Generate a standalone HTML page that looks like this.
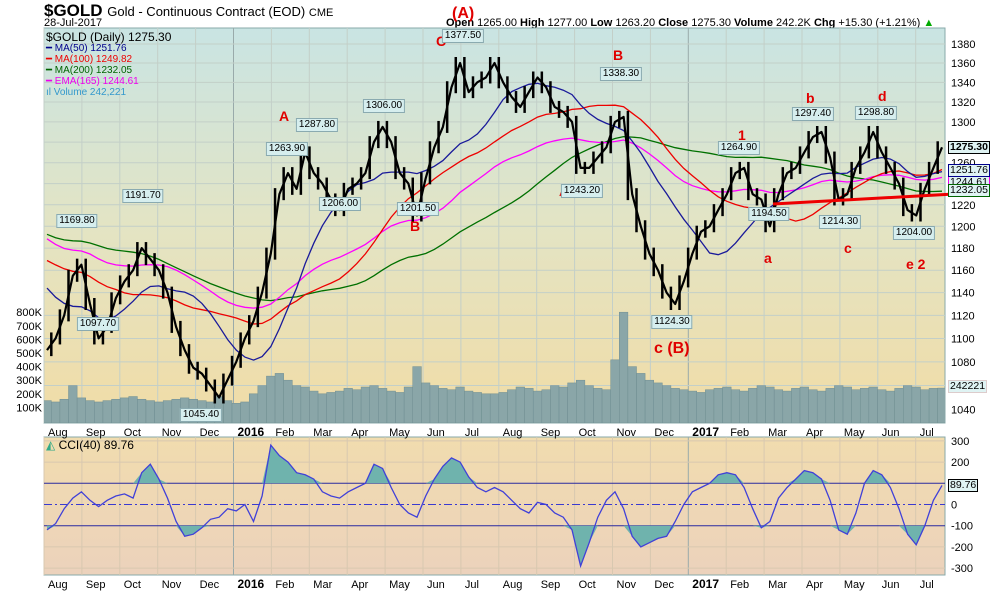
<!DOCTYPE html>
<html><head><meta charset="utf-8">
<style>
body{margin:0;background:#fff;font-family:"Liberation Sans",sans-serif;}
#wrap{position:relative;width:990px;height:591px;overflow:hidden;background:#fff}
.t{position:absolute;white-space:nowrap;font-size:11px;color:#000}
.r{position:absolute;color:#e00000;font-weight:bold;font-size:14px;white-space:nowrap}
.pb{position:absolute;font-size:10px;background:#d6eeee;border:1px solid #8aaab0;padding:0 2px;line-height:12px;transform:translate(-50%,-50%);white-space:nowrap}
.tag{position:absolute;left:948px;font-size:10.5px;line-height:11px;padding:0 1px;border:1px solid;background:#dff3f3;white-space:nowrap}
</style></head><body>
<div id="wrap">
<div class="t" style="left:44px;top:1px;font-size:17px;font-weight:bold">$GOLD <span style="font-size:13px;font-weight:normal">Gold - Continuous Contract (EOD) <span style="font-size:11px">CME</span></span></div>
<div class="t" style="left:44px;top:17px">28-Jul-2017</div>
<div class="t" style="left:446px;top:17px"><b>Open</b> 1265.00 <b>High</b> 1277.00 <b>Low</b> 1263.20 <b>Close</b> 1275.30 <b>Volume</b> 242.2K <b>Chg</b> +15.30 (+1.21%) <span style="color:#0a0">▲</span></div>
<svg id="svg" width="990" height="591" style="position:absolute;left:0;top:0">
<defs>
<linearGradient id="g1" x1="0" y1="0" x2="0" y2="1"><stop offset="0" stop-color="#c9e4e3"/><stop offset="0.5" stop-color="#e3e4c4"/><stop offset="1" stop-color="#f1dca6"/></linearGradient>
<linearGradient id="g2" x1="0" y1="0" x2="0" y2="1"><stop offset="0" stop-color="#f1dcae"/><stop offset="1" stop-color="#ecd2bc"/></linearGradient>
<clipPath id="cp1"><rect x="44" y="28" width="901" height="395"/></clipPath>
<clipPath id="cp2"><rect x="44" y="437" width="901" height="138"/></clipPath>
</defs>
<rect x="44" y="28" width="901" height="395" fill="url(#g1)" stroke="#8aa"/>
<rect x="44" y="437" width="901" height="138" fill="url(#g2)" stroke="#8aa"/>
<g id="grid"></g>
<g id="vol" clip-path="url(#cp1)"></g>
<g id="mas" clip-path="url(#cp1)"></g>
<g id="price" clip-path="url(#cp1)"></g>
<g id="cci" clip-path="url(#cp2)"></g>
<g id="axes"></g>
<line x1="773" y1="204" x2="990" y2="192" stroke="#e00" stroke-width="3"/>
</svg>
<div class="t" style="left:46px;top:30px;font-size:12px">$GOLD (Daily) 1275.30</div>
<div class="t" style="left:46px;top:43px;font-size:10px;color:#00008b">━ MA(50) 1251.76</div>
<div class="t" style="left:46px;top:54px;font-size:10px;color:#e00">━ MA(100) 1249.82</div>
<div class="t" style="left:46px;top:65px;font-size:10px;color:#006400">━ MA(200) 1232.05</div>
<div class="t" style="left:46px;top:76px;font-size:10px;color:#e0e">━ EMA(165) 1244.61</div>
<div class="t" style="left:46px;top:87px;font-size:10px;color:#39c">ıl Volume 242,221</div>
<div class="t" style="left:46px;top:438px;font-size:12px"><span style="color:#3a8">◭</span> CCI(40) 89.76</div>
<div class="tag" style="top:141px;border-color:#000;font-weight:bold">1275.30</div>
<div class="tag" style="top:176px;border-color:#e0e">1244.61</div>
<div class="tag" style="top:164px;border-color:#00008b">1251.76</div>
<div class="tag" style="top:184px;border-color:#006400">1232.05</div>
<div class="tag" style="top:380px;border-color:#dcc;background:#dff3f3">242221</div>
<div class="tag" style="top:479px;border-color:#000">89.76</div>
<div class="r" style="left:452px;top:5px;font-size:16px">(A)</div>
<div class="r" style="left:436px;top:33px">C</div>
<div class="r" style="left:279px;top:108px">A</div>
<div class="r" style="left:410px;top:218px">B</div>
<div class="r" style="left:559px;top:183px">A</div>
<div class="r" style="left:613px;top:47px">B</div>
<div class="r" style="left:654px;top:340px;font-size:16px">c (B)</div>
<div class="r" style="left:738px;top:127px">1</div>
<div class="r" style="left:764px;top:250px">a</div>
<div class="r" style="left:806px;top:90px">b</div>
<div class="r" style="left:844px;top:240px">c</div>
<div class="r" style="left:878px;top:88px">d</div>
<div class="r" style="left:906px;top:256px">e 2</div>
<div class="pb" style="left:463px;top:36px">1377.50</div>
<div class="pb" style="left:317px;top:125px">1287.80</div>
<div class="pb" style="left:287px;top:149px">1263.90</div>
<div class="pb" style="left:384px;top:106px">1306.00</div>
<div class="pb" style="left:340px;top:204px">1206.00</div>
<div class="pb" style="left:418px;top:209px">1201.50</div>
<div class="pb" style="left:143px;top:196px">1191.70</div>
<div class="pb" style="left:77px;top:221px">1169.80</div>
<div class="pb" style="left:98px;top:324px">1097.70</div>
<div class="pb" style="left:201px;top:415px">1045.40</div>
<div class="pb" style="left:621px;top:74px">1338.30</div>
<div class="pb" style="left:582px;top:191px">1243.20</div>
<div class="pb" style="left:672px;top:322px">1124.30</div>
<div class="pb" style="left:739px;top:148px">1264.90</div>
<div class="pb" style="left:769px;top:214px">1194.50</div>
<div class="pb" style="left:813px;top:114px">1297.40</div>
<div class="pb" style="left:840px;top:222px">1214.30</div>
<div class="pb" style="left:876px;top:113px">1298.80</div>
<div class="pb" style="left:914px;top:233px">1204.00</div>
</div>
<script>
const preCloses=[1230,1225,1200,1190,1180,1195,1200,1210,1195,1185,1200,1230,1260,1280,1290,1260,1235,1220,1210,1200,1165,1180,1190,1200,1185,1205,1200,1190,1185,1210,1190,1180,1175,1180,1170,1165,1160,1130,1100,1090];
const closes=[1090,1100,1120,1155,1165,1130,1100,1110,1135,1150,1160,1180,1170,1160,1140,1110,1090,1075,1070,1060,1050,1065,1080,1100,1115,1140,1175,1230,1250,1235,1270,1250,1240,1225,1215,1235,1240,1250,1280,1295,1280,1250,1240,1210,1245,1275,1295,1335,1360,1330,1340,1345,1360,1340,1325,1315,1330,1345,1335,1315,1310,1300,1255,1255,1265,1275,1300,1305,1230,1200,1175,1160,1140,1130,1150,1175,1195,1200,1215,1230,1250,1255,1230,1225,1200,1230,1250,1255,1270,1285,1290,1265,1225,1230,1255,1270,1290,1270,1255,1240,1215,1210,1235,1255,1275];
const volumes=[150,140,160,260,170,150,140,150,160,170,180,160,150,140,150,160,170,160,150,140,180,150,130,140,200,260,330,350,300,260,250,220,200,210,220,240,230,250,260,240,220,210,250,400,280,260,240,230,250,220,210,200,200,210,230,250,240,220,230,260,250,280,300,260,240,230,450,800,400,350,300,280,260,240,230,220,210,230,240,250,230,220,240,260,250,230,220,240,250,230,220,240,260,250,230,240,250,230,220,240,260,250,230,240,242];
const cciVals=[-120,-90,-20,30,60,20,-10,20,40,50,30,150,190,120,30,-80,-150,-140,-110,-70,-60,-20,-30,0,-80,40,280,230,200,150,140,120,60,40,30,60,80,100,190,170,80,0,-40,-60,40,120,180,220,200,130,80,60,80,60,20,-20,-40,10,0,-40,-60,-120,-290,-180,-60,20,60,-20,-150,-200,-180,-160,-150,-80,0,60,80,100,140,150,140,80,-20,-110,-80,30,80,120,160,150,120,20,-120,-140,-40,100,160,140,80,-20,-140,-190,-100,20,90];
const priceTicks=[1380,1360,1340,1320,1300,1280,1260,1240,1220,1200,1180,1160,1140,1120,1100,1080,1060,1040];
const hiddenPriceTicks=[1280,1240,1060];
const volTicks=[100,200,300,400,500,600,700,800];
const cciTicks=[300,200,100,0,-100,-200,-300];
const monthLabels=["Aug","Sep","Oct","Nov","Dec","2016","Feb","Mar","Apr","May","Jun","Jul","Aug","Sep","Oct","Nov","Dec","2017","Feb","Mar","Apr","May","Jun","Jul"];
const NS="http://www.w3.org/2000/svg";
function mk(tag,attrs,parent){const e=document.createElementNS(NS,tag);for(const k in attrs)e.setAttribute(k,attrs[k]);document.getElementById(parent).appendChild(e);return e;}
function xW(i){return 47+i*(895/(closes.length-1));}
function yP(p){
  let idx=(1380-p)/20; if(idx<0){return 44+idx*19;}
  const n=Math.floor(idx), f=idx-n; let y=44; for(let k=0;k<n;k++)y+=19+k*5/16; return y+f*(19+n*5/16);}
function yV(v){return 421-v*0.136;}
function yC(c){return 504.5-c*0.212;}
function xMonth(m){return 44+m*37.9;}
monthLabels.forEach((m,i)=>{const x=xMonth(i);
  const l1=mk('line',{x1:x,y1:28,x2:x,y2:423,stroke:(m.length===4?'#9aa':'#c3cfc8'),'stroke-width':1},'grid');
  
  
  const l2=mk('line',{x1:x,y1:437,x2:x,y2:575,stroke:(m.length===4?'#9aa':'#d8c8b0'),'stroke-width':1},'grid');
  
  
  [431,583].forEach(yy=>{const t=mk('text',{x:x+4,y:yy+5,'font-size':m.length===4?12:11,'font-weight':m.length===4?'bold':'normal','font-family':'Liberation Sans'},'axes');t.textContent=m;
  
  });
});
priceTicks.forEach(p=>{const y=yP(p);
  const l=mk('line',{x1:44,y1:y,x2:945,y2:y,stroke:'#c3cfc8','stroke-width':1},'grid');
  
  
  if(hiddenPriceTicks.indexOf(p)<0){const t=mk('text',{x:951,y:y+4,'font-size':11,'font-family':'Liberation Sans'},'axes');t.textContent=p;
  
  }
});
volTicks.forEach(v=>{const t=mk('text',{x:42,y:yV(v)+4,'font-size':11,'text-anchor':'end','font-family':'Liberation Sans'},'axes');t.textContent=v+'K';
  
  });
cciTicks.forEach(c=>{const y=yC(c);
  const t=mk('text',{x:951,y:y+4,'font-size':11,'font-family':'Liberation Sans'},'axes');t.textContent=c;
  
  
  if(c===100||c===-100){const l=mk('line',{x1:44,y1:y,x2:945,y2:y,stroke:'#2a2aa0','stroke-width':1},'cci');}
  else if(c===0){const l=mk('line',{x1:44,y1:y,x2:945,y2:y,stroke:'#3a3ad0','stroke-width':1,'stroke-dasharray':'8,3,2,3'},'cci');}
  else{const l=mk('line',{x1:44,y1:y,x2:945,y2:y,stroke:'#d8c8b0','stroke-width':1},'grid');}
});
const bw=895/(closes.length-1);
volumes.forEach((v,i)=>{const r=mk('rect',{x:xW(i)-bw/2,y:yV(v),width:bw,height:423-yV(v),fill:'#8aa6a8',stroke:'#6f8e92','stroke-width':0.5},'vol');
  
  });
const all=preCloses.concat(closes), off=preCloses.length;
function sma(n,i){let s=0,c=0;for(let k=Math.max(0,i-n+1);k<=i;k++){s+=all[k];c++;}return s/c;}
function pathFrom(vals){return vals.map((v,i)=>(i?'L':'M')+xW(i).toFixed(1)+','+yP(v).toFixed(1)).join('');}
const ma10=closes.map((_,i)=>sma(10,i+off)), ma20=closes.map((_,i)=>sma(20,i+off)), ma40=closes.map((_,i)=>sma(40,i+off));
const ema=[];let e=sma(33,off-1);const a=2/(33+1);all.forEach((v,k)=>{if(k>=off){e=e+a*(v-e);ema.push(e);}});
[[ma40,'#007000','ma200-line'],[ema,'#ff00ff','ema165-line'],[ma20,'#ee0000','ma100-line'],[ma10,'#1a1a9a','ma50-line']].forEach(([vals,col,nm])=>{
  const p=mk('path',{d:pathFrom(vals),fill:'none',stroke:col,'stroke-width':1.3},'mas');
  
  });
// weekly range bars from consecutive closes
closes.forEach((c,i)=>{if(i===0)return;const p=closes[i-1];
  const y1=yP(Math.max(c,p))-6, y2=yP(Math.min(c,p))+6;
  const b=mk('line',{x1:xW(i)-bw/2,y1:y1,x2:xW(i)-bw/2,y2:y2,stroke:'#000','stroke-width':2.5},'price');
  
  });
const pl=mk('path',{d:pathFrom(closes),fill:'none',stroke:'#000','stroke-width':2.2,'stroke-linejoin':'round'},'price');


const base100=yC(100), baseM100=yC(-100);
let up='M'+xW(0)+','+base100, dn='M'+xW(0)+','+baseM100;
cciVals.forEach((c,i)=>{up+='L'+xW(i).toFixed(1)+','+Math.min(yC(c),base100).toFixed(1);dn+='L'+xW(i).toFixed(1)+','+Math.max(yC(c),baseM100).toFixed(1);});
up+='L'+xW(cciVals.length-1)+','+base100+'Z';dn+='L'+xW(cciVals.length-1)+','+baseM100+'Z';
const f1=mk('path',{d:up,fill:'#6fb3ad'},'cci');
const f2=mk('path',{d:dn,fill:'#6fb3ad'},'cci');
const cl=mk('path',{d:cciVals.map((c,i)=>(i?'L':'M')+xW(i).toFixed(1)+','+yC(c).toFixed(1)).join(''),fill:'none',stroke:'#4040d8','stroke-width':1.3},'cci');


</script>
</body></html>
